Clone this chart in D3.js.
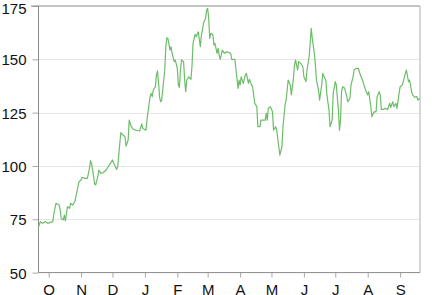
<!DOCTYPE html>
<html>
<head>
<meta charset="utf-8">
<script src="https://cdnjs.cloudflare.com/ajax/libs/d3/7.8.5/d3.min.js"></script>
<style>
body { margin: 0; background: #fff; }
svg { display: block; }
</style>
</head>
<body>
<div id="svganchor"></div>
<script>
// Data (days counted from the first observation)
var startDay = "2011-09-21";
var dayOffsets = [0, 2, 4, 7, 9, 11, 14, 15, 17, 20, 21, 22, 24, 25, 26, 28, 30, 31, 33, 35,
	36, 38, 39, 41, 42, 45, 47, 49, 50, 51, 53, 54, 55, 57, 58, 60, 62, 65, 66, 69,
	71, 73, 75, 76, 78, 79, 81, 83, 84, 86, 87, 89, 91, 93, 97, 99, 100, 103, 104, 105,
	107, 108, 109, 110, 112, 113, 114, 115, 116, 117, 118, 120, 121, 122, 123, 124, 126, 127, 128, 130,
	131, 133, 134, 135, 136, 137, 139, 140, 141, 142, 144, 146, 147, 148, 150, 151, 153, 155, 156, 157,
	158, 160, 161, 162, 163, 164, 165, 167, 168, 169, 171, 172, 173, 174, 176, 178, 180, 182, 184, 185,
	188, 190, 191, 192, 193, 194, 196, 198, 199, 201, 202, 204, 205, 207, 209, 210, 212, 213, 215, 217,
	218, 219, 220, 222, 224, 225, 227, 228, 230, 231, 233, 234, 236, 237, 239, 241, 242, 244, 245, 246,
	248, 249, 251, 253, 254, 256, 257, 259, 260, 261, 262, 264, 265, 266, 268, 269, 271, 272, 274, 275,
	276, 278, 279, 281, 282, 284, 285, 287, 288, 289, 290, 291, 293, 295, 296, 298, 299, 301, 302, 304,
	306, 308, 310, 312, 313, 315, 316, 318, 319, 321, 323, 324, 326, 327, 328, 330, 332, 334, 336, 337,
	339, 340, 342, 343, 345, 346, 348, 349, 351, 352, 354, 355, 357, 358, 360, 362, 363, 365];
var values = [70.9, 73.9, 73.1, 73.9, 73.1, 73.4, 73.9, 77.8, 82.5, 81.7, 79.3, 75.5, 74.7, 77.0, 74.2, 80.9, 80.1, 82.5, 81.7, 83.2,
	85.6, 90.3, 92.6, 93.4, 94.7, 94.2, 94.2, 98.9, 102.5, 101.2, 95.0, 91.5, 91.1, 95.0, 98.1, 96.5, 96.8, 98.1, 98.9, 101.2,
	102.8, 100.4, 98.4, 99.6, 110.6, 115.6, 114.5, 113.7, 109.3, 112.2, 121.5, 118.4, 117.2, 116.8, 116.4, 119.7, 117.6, 116.8, 121.5, 125.4,
	132.5, 134.0, 132.5, 135.6, 137.1, 142.6, 144.6, 139.5, 132.5, 130.1, 130.6, 140.3, 145.0, 155.9, 160.1, 159.8, 154.3, 155.9, 152.8, 148.9,
	149.7, 145.8, 137.9, 136.9, 145.0, 149.7, 148.9, 140.3, 134.8, 140.3, 141.8, 140.6, 146.5, 157.5, 161.7, 160.6, 162.9, 155.9, 161.4, 163.7,
	166.9, 169.2, 173.1, 173.9, 169.2, 159.8, 162.2, 161.4, 156.7, 157.5, 152.8, 155.1, 152.0, 150.0, 154.3, 152.8, 153.5, 153.3, 152.8, 150.0,
	150.0, 141.1, 136.4, 140.3, 137.9, 141.8, 138.7, 142.6, 143.4, 138.7, 140.6, 137.9, 137.1, 129.4, 127.8, 118.4, 118.4, 121.5, 121.5, 121.5,
	124.7, 121.5, 127.0, 127.8, 125.4, 116.8, 118.4, 116.8, 109.0, 105.1, 109.0, 118.4, 128.6, 130.9, 140.3, 137.9, 133.3, 141.1, 147.3, 149.7,
	145.0, 148.9, 148.1, 146.5, 141.8, 139.5, 145.0, 151.2, 157.5, 164.5, 159.8, 152.8, 147.3, 140.3, 135.6, 130.9, 137.9, 143.4, 141.1, 140.3,
	133.3, 126.2, 118.4, 121.5, 134.0, 139.5, 137.9, 126.2, 116.8, 121.5, 134.8, 137.1, 136.4, 132.5, 130.1, 131.7, 137.9, 141.8, 145.0, 145.8,
	145.8, 142.6, 140.3, 137.1, 135.6, 133.3, 134.8, 127.8, 123.1, 125.4, 125.4, 132.5, 134.8, 133.3, 126.5, 126.5, 127.0, 126.5, 129.4, 127.5,
	130.1, 127.8, 129.4, 127.0, 134.0, 137.1, 137.9, 139.5, 143.4, 145.0, 139.5, 140.3, 134.8, 133.3, 132.2, 132.5, 130.9, 131.7];
var yTicks = [50, 75, 100, 125, 150, 175];
var monthLabels = ["O", "N", "D", "J", "F", "M", "A", "M", "J", "J", "A", "S"];

// Measurement
var w = 433, h = 295;
var padding = [ 6, 13, 22.4, 38.5 ];  //Top, right, bottom, left

var parseDay = d3.timeParse("%Y-%m-%d");
var first = parseDay(startDay);

var data = dayOffsets.map(function(d, i) {
	return { date: d3.timeDay.offset(first, d), value: values[i] };
});

// Scaling
var xScale = d3.scaleTime()
				.domain([first, d3.timeDay.offset(first, 365)])
				.range([ padding[3] - 0.3, w - padding[1] ]);
var yScale = d3.scaleLinear()
				.domain([50, 175])
				.range([ h - padding[2], padding[0] ]);

var monthTicks = d3.timeMonth.range(d3.timeMonth.ceil(first), xScale.domain()[1]);

// SVG Container
var svg = d3.select("#svganchor")
				.append("svg")
				.attr("width", w)
				.attr("height", h);

// Grid
svg.append("g")
	.selectAll("line")
	.data(yTicks.slice(1, -1))
	.enter()
	.append("line")
	.attr("x1", padding[3])
	.attr("x2", w - padding[1])
	.attr("y1", function(d) { return Math.round(yScale(d)) + 0.5; })
	.attr("y2", function(d) { return Math.round(yScale(d)) + 0.5; })
	.attr("stroke", "#e6e6e6")
	.attr("stroke-width", 1);

// Axis
var yAxis = d3.axisLeft()
				.scale(yScale)
				.tickValues(yTicks)
				.tickSizeInner(6)
				.tickSizeOuter(0)
				.tickPadding(6);

var xAxis = d3.axisBottom()
				.scale(xScale)
				.tickValues(monthTicks)
				.tickFormat(function(d, i) { return monthLabels[i]; })
				.tickSizeInner(5)
				.tickSizeOuter(0)
				.tickPadding(7);

var gy = svg.append("g")
	.attr("class", "y axis")
	.attr("transform", "translate(" + padding[3] + ",0)")
	.call(yAxis);

var gx = svg.append("g")
	.attr("class", "x axis")
	.attr("transform", "translate(0," + (h - padding[2]) + ")")
	.call(xAxis);

svg.selectAll(".axis .domain").remove();
svg.selectAll(".axis line").attr("stroke", "#aaa");
svg.selectAll(".axis text")
	.attr("font-family", "Liberation Sans, Arial, sans-serif")
	.attr("font-size", 15)
	.attr("fill", "#111");
gy.selectAll("text").attr("dy", function(d) { return d === 175 ? "0.5em" : "0.36em"; });
gx.selectAll("text").attr("dy", "0.71em");

// Frame
var frame = svg.append("g").attr("fill", "none");
frame.append("line")
	.attr("x1", 31).attr("x2", w - padding[1])
	.attr("y1", yScale(175)).attr("y2", yScale(175))
	.attr("stroke", "#8a8a8a");
frame.append("line")
	.attr("x1", padding[3]).attr("x2", w - padding[1])
	.attr("y1", h - padding[2]).attr("y2", h - padding[2])
	.attr("stroke", "#8a8a8a");
frame.append("line")
	.attr("x1", padding[3]).attr("x2", padding[3])
	.attr("y1", padding[0]).attr("y2", h - padding[2])
	.attr("stroke", "#8a8a8a");
frame.append("line")
	.attr("x1", w - padding[1]).attr("x2", w - padding[1])
	.attr("y1", padding[0]).attr("y2", h - padding[2])
	.attr("stroke", "#b0b0b0");

// Line
var line = d3.line()
	.x(function(d) { return xScale(d.date); })
	.y(function(d) { return yScale(d.value); });

svg.append("path")
	.datum(data)
	.attr("d", line)
	.attr("fill", "none")
	.attr("stroke", "#6cbd68")
	.attr("stroke-width", 1.2)
	.attr("stroke-linejoin", "round");
</script>
</body>
</html>
